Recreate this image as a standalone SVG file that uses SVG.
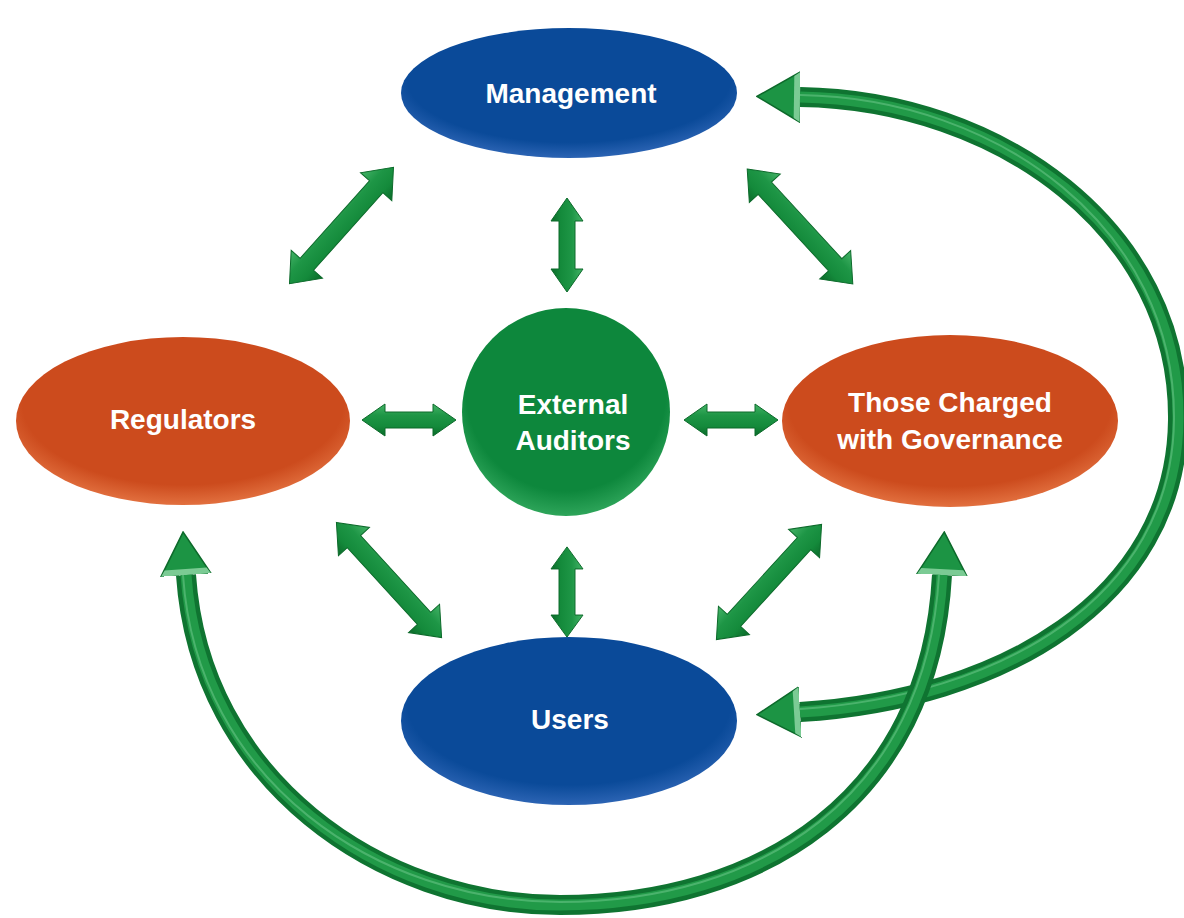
<svg xmlns="http://www.w3.org/2000/svg" width="1184" height="918" viewBox="0 0 1184 918">
<style>
.lbl{font-family:"Liberation Sans",Arial,sans-serif;font-weight:bold;font-size:28px;fill:#ffffff;text-anchor:middle;dominant-baseline:central}
.arr{fill:url(#ag);stroke:#0D6A2B;stroke-width:1}
.curveBase{fill:none;stroke:#0F7431;stroke-width:20}
.curveTop{fill:none;stroke:#219A48;stroke-width:11}
.curveHi{fill:none;stroke:#5DBE7C;stroke-width:2;opacity:0.7}
</style>
<defs>
<linearGradient id="ag" x1="0" y1="0" x2="0" y2="1">
<stop offset="0" stop-color="#45B468"/>
<stop offset="0.35" stop-color="#1E9646"/>
<stop offset="0.7" stop-color="#148A3B"/>
<stop offset="1" stop-color="#0B6A2A"/>
</linearGradient>
<radialGradient id="gBlue" cx="0.5" cy="0.4" r="0.6">
<stop offset="0.8" stop-color="#0A4A99"/>
<stop offset="1" stop-color="#2C64B4"/>
</radialGradient>
<radialGradient id="gOrange" cx="0.5" cy="0.4" r="0.6">
<stop offset="0.8" stop-color="#CC4B1D"/>
<stop offset="1" stop-color="#E2703F"/>
</radialGradient>
<radialGradient id="gGreen" cx="0.5" cy="0.4" r="0.6">
<stop offset="0.8" stop-color="#0D873C"/>
<stop offset="1" stop-color="#2EA55A"/>
</radialGradient>
<path id="dLong" d="M-78,0 L-52,-21 L-52,-9 L52,-9 L52,-21 L78,0 L52,21 L52,9 L-52,9 L-52,21 Z"/>
<path id="dShort" d="M-47,0 L-24,-16 L-24,-8 L24,-8 L24,-16 L47,0 L24,16 L24,8 L-24,8 L-24,16 Z"/>
<marker id="head" markerUnits="userSpaceOnUse" viewBox="0 0 44 52" markerWidth="44" markerHeight="52" refX="0" refY="26" orient="auto-start-reverse">
<path d="M0,1 L43,26 L0,51 Z" fill="#1C9444" stroke="#0D6A2B" stroke-width="1.5"/>
<path d="M0,1 L6,5 L6,47 L0,51 Z" fill="#7BCB94"/>
</marker>
</defs>
<rect width="1184" height="918" fill="#ffffff"/>
<g id="connectors">
<use href="#dLong" class="arr" transform="translate(341.5,225.5) rotate(-48.2)"/>
<use href="#dLong" class="arr" transform="translate(800,226.5) rotate(47.4)"/>
<use href="#dLong" class="arr" transform="translate(389,580) rotate(47.6)"/>
<use href="#dLong" class="arr" transform="translate(769,582) rotate(-47.6)"/>
<use href="#dShort" class="arr" transform="translate(567,245) rotate(90)"/>
<use href="#dShort" class="arr" transform="translate(567,592) rotate(90) scale(0.96,1)"/>
<use href="#dShort" class="arr" transform="translate(409,420)"/>
<use href="#dShort" class="arr" transform="translate(731,420)"/>
<path class="curveBase" d="M800,97 C1000,100 1180,230 1178,420 C1176,600 1000,700 800,712" marker-start="url(#head)" marker-end="url(#head)"/>
<path class="curveTop" d="M800,97 C1000,100 1180,230 1178,420 C1176,600 1000,700 800,712"/>
<path class="curveHi" d="M800,95 C1000,98 1176,230 1174,420 C1172,598 1000,696 800,709"/>
<path class="curveBase" d="M186,575 C200,780 380,905 560,905 C760,905 930,800 942,575" marker-start="url(#head)" marker-end="url(#head)"/>
<path class="curveTop" d="M186,575 C200,780 380,905 560,905 C760,905 930,800 942,575"/>
<path class="curveHi" d="M183,575 C197,782 378,902 560,902 C758,902 926,798 939,575"/>
</g>
<g id="management">
<ellipse cx="569" cy="93" rx="168" ry="65" fill="url(#gBlue)"/>
<text class="lbl" x="571" y="93">Management</text>
</g>
<g id="regulators">
<ellipse cx="183" cy="421" rx="167" ry="84" fill="url(#gOrange)"/>
<text class="lbl" x="183" y="419">Regulators</text>
</g>
<g id="external-auditors">
<ellipse cx="566" cy="412" rx="104" ry="104" fill="url(#gGreen)"/>
<text class="lbl" x="573" y="404">External</text>
<text class="lbl" x="573" y="440">Auditors</text>
</g>
<g id="governance">
<ellipse cx="950" cy="421" rx="168" ry="86" fill="url(#gOrange)"/>
<text class="lbl" x="950" y="402">Those Charged</text>
<text class="lbl" x="950" y="439">with Governance</text>
</g>
<g id="users">
<ellipse cx="569" cy="721" rx="168" ry="84" fill="url(#gBlue)"/>
<text class="lbl" x="570" y="719">Users</text>
</g>
</svg>
